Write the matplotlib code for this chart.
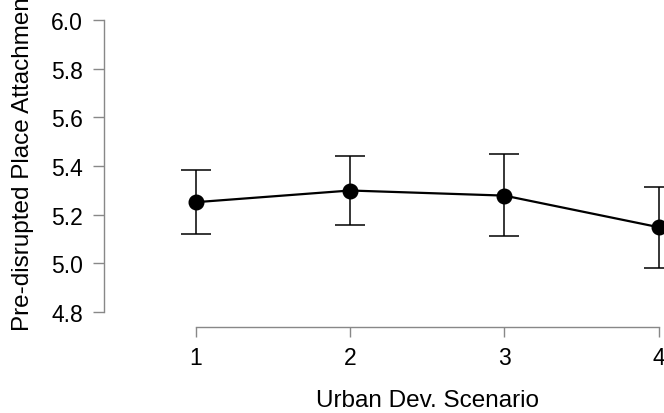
import matplotlib
matplotlib.use('Agg')
import matplotlib.pyplot as plt

# donnees
scenarios = [1, 2, 3, 4]
means = [5.251, 5.299, 5.278, 5.148]
upper = [5.383, 5.442, 5.449, 5.312]
lower = [5.122, 5.157, 5.112, 4.979]
y_ticks = [4.8, 5.0, 5.2, 5.4, 5.6, 5.8, 6.0]

err_low = [m - l for m, l in zip(means, lower)]
err_high = [u - m for u, m in zip(upper, means)]

plt.rcParams['font.family'] = ['Liberation Sans', 'DejaVu Sans']

fig = plt.figure(figsize=(6.64, 4.14), dpi=100)
# axe qui deborde a droite (image recadree)
ax = fig.add_axes([104 / 664, (414 - 328) / 414, 632 / 664, 318 / 414])
ax.set_xlim(0.405, 4.5)
ax.set_ylim(4.738, 6.045)

ax.errorbar(scenarios, means, yerr=[err_low, err_high], color='black',
            fmt='none', elinewidth=1.1, capsize=11, capthick=1.1, zorder=2)
ax.plot(scenarios, means, color='black', linewidth=1.6, marker='o',
        markersize=10.5, zorder=3)

for s in ['top', 'right']:
    ax.spines[s].set_visible(False)
ax.spines['left'].set_bounds(4.8, 6.0)
ax.spines['bottom'].set_bounds(1, 4)
for s in ['left', 'bottom']:
    ax.spines[s].set_color('#888888')
    ax.spines[s].set_linewidth(1.0)

ax.set_xticks(scenarios)
ax.set_yticks(y_ticks)
ax.set_yticklabels([f'{v:.1f}' for v in y_ticks])
ax.tick_params(axis='both', colors='#888888', labelcolor='black',
               labelsize=16.5, width=1.0)
ax.tick_params(axis='y', length=8, pad=7)
ax.tick_params(axis='x', length=7, pad=7)

ax.set_xlabel('Urban Dev. Scenario', fontsize=17.5)
ax.xaxis.set_label_coords((428 - 104) / 632, -(401 - 328) / 318, transform=ax.transAxes)
ax.xaxis.label.set_verticalalignment('center')

ax.set_ylabel('Pre-disrupted Place Attachment', fontsize=17.5)
ax.yaxis.label.set_horizontalalignment('left')
ax.yaxis.set_label_coords(-(104 - 34) / 632, -(331 - 328) / 318, transform=ax.transAxes)

fig.savefig('out.png', dpi=100)
